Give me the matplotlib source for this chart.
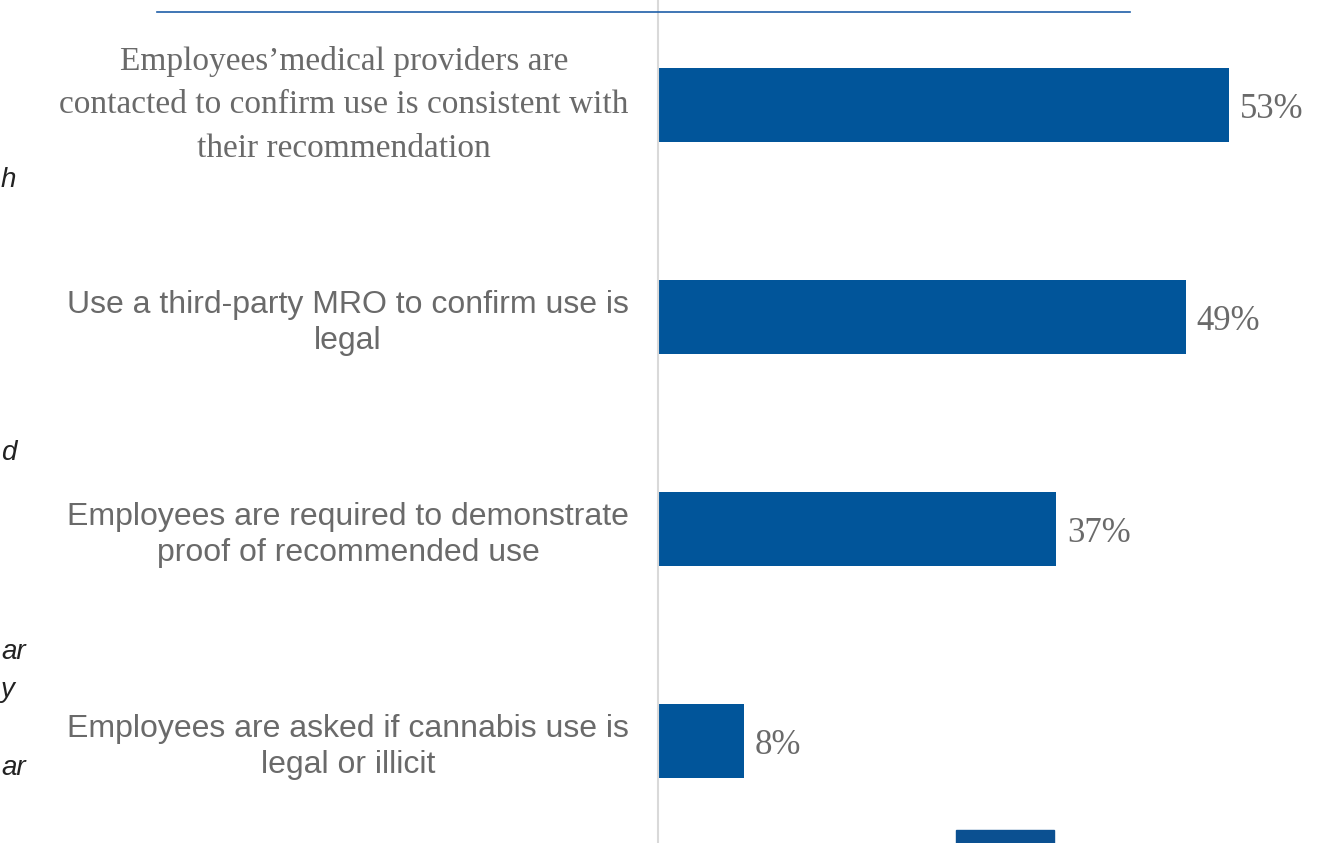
import matplotlib
matplotlib.use("Agg")
import matplotlib.pyplot as plt
from matplotlib.patches import Rectangle
from matplotlib.lines import Line2D

categories = [
    "Employees\u2019medical providers are\ncontacted to confirm use is consistent with\ntheir recommendation",
    "Use a third-party MRO to confirm use is\nlegal",
    "Employees are required to demonstrate\nproof of recommended use",
    "Employees are asked if cannabis use is\nlegal or illicit",
]
values = [53, 49, 37, 8]
value_labels = ["53%", "49%", "37%", "8%"]
edge_fragments = ["h", "d", "ar", "y", "ar"]

W, H = 1319, 843
fig = plt.figure(figsize=(W / 100, H / 100), dpi=100)
fig.patch.set_facecolor("white")

bar_color = "#01559A"
text_gray = "#6a6a6a"

ax = fig.add_axes([658 / W, 0, (W - 658) / W, 1])
ax.set_facecolor("none")
pos = list(range(len(values)))
ax.barh(pos, values, height=0.35, color=bar_color)
ax.set_xlim(0, (W - 658) / 10.77)
ax.set_ylim((H - 105) / 212, -105 / 212)

for s in ["top", "right", "bottom"]:
    ax.spines[s].set_visible(False)
ax.spines["left"].set_color("#d9d9d9")
ax.spines["left"].set_linewidth(1.5)
ax.set_xticks([])
ax.set_yticks(pos)
ax.set_yticklabels(categories)
ax.tick_params(axis="y", length=0, pad=21)
for i, lab in enumerate(ax.get_yticklabels()):
    lab.set_multialignment("center")
    lab.set_color(text_gray)
    if i == 0:
        lab.set_fontfamily("Liberation Serif")
        lab.set_fontsize(24)
        lab.set_linespacing(1.55)
        lab.set_verticalalignment("center")
    else:
        lab.set_fontfamily("Liberation Sans")
        lab.set_fontsize(23)
        lab.set_linespacing(1.25)

for p, v, t in zip(pos, values, value_labels):
    ax.text(v + 1.0, p + 0.02, t, va="center", ha="left",
            fontfamily="Liberation Serif", fontsize=25, color=text_gray)

# Decorative elements from the surrounding slide
fig.add_artist(Line2D([157 / W, 1130 / W], [1 - 12 / H, 1 - 12 / H],
                      color="#1f5fa8", linewidth=1.2, transform=fig.transFigure))
fig.add_artist(Rectangle((956 / W, 0), (1054 - 956) / W, 13 / H,
                         transform=fig.transFigure, color="#0b5091"))
for frag, y in zip(edge_fragments, [180, 453, 652, 690, 768]):
    fig.text(1 / W, 1 - y / H, frag, ha="left", va="center",
             fontstyle="italic", fontfamily="Liberation Sans",
             fontsize=20, color="#222222")

fig.savefig("out.png", dpi=100)
